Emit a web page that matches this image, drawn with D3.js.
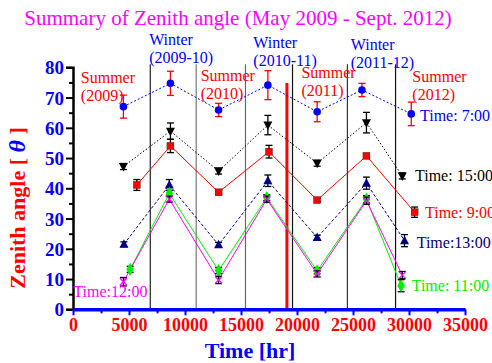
<!DOCTYPE html>
<html>
<head>
<meta charset="utf-8">
<script src="https://cdn.jsdelivr.net/npm/d3@7"></script>
<style>
  body { margin: 0; background: #fff; }
  text { font-family: "Liberation Serif", "Times New Roman", serif; }
</style>
</head>
<body>
<div id="chart"></div>
<script>
var width = 492,
    height = 363;

// hours since start, zenith angle, error
var s7x  = [4500, 8700, 13000, 17400, 21800, 25800, 30200];
var s7y  = [67.0, 74.7, 65.9, 74.1, 65.3, 72.5, 64.6];
var s7e  = [3.8, 4.0, 2.2, 4.8, 3.3, 2.2, 3.9];

var s15x = [4500, 8700, 13000, 17400, 21800, 26200, 29400];
var s15y = [47.2, 58.9, 45.7, 60.9, 48.3, 61.7, 44.1];
var s15e = [1.0, 2.7, 1.0, 3.2, 1.0, 3.4, 1.0];

var s9x  = [5700, 8700, 13000, 17500, 21800, 26200, 30500];
var s9y  = [41.1, 54.0, 38.7, 52.1, 36.1, 50.7, 32.1];
var s9e  = [1.8, 2.2, 0.8, 2.1, 0.5, 0.8, 1.7];

var s13x = [4550, 8600, 13000, 17400, 21800, 26200, 29600];
var s13y = [21.5, 41.1, 21.3, 42.5, 23.7, 41.7, 22.7];
var s13e = [0.8, 1.8, 0.8, 1.9, 0.8, 2.0, 2.0];

var s11x = [5100, 8600, 13000, 17300, 21800, 26200, 29300];
var s11y = [13.2, 38.3, 12.8, 36.9, 12.7, 36.4, 7.8];
var s11e = [1.0, 1.0, 1.0, 1.0, 1.0, 1.2, 2.0];

var s12x = [4500, 8600, 13000, 17300, 21800, 26200, 29400];
var s12y = [9.1, 36.4, 9.7, 36.4, 11.7, 35.9, 11.3];
var s12e = [1.4, 1.0, 1.2, 1.0, 1.0, 1.2, 1.2];

var seasonLines = [6900, 11000, 15400, 19600, 24500, 28800];
var seasonShade = ["#222", "#777", "#666", "#111", "#333", "#111"];
var redLine = 19100;

var winters = [["Winter", "(2009-10)", 6800], ["Winter", "(2010-11)", 16100], ["Winter", "(2011-12)", 24800]];
var summers = [["Summer", "(2009)", 700], ["Summer", "(2010)", 11400], ["Summer", "(2011)", 20400], ["Summer", "(2012)", 30300]];

var xTicks = [0, 5000, 10000, 15000, 20000, 25000, 30000, 35000];
var yTicks = [0, 10, 20, 30, 40, 50, 60, 70, 80];

var svg = d3.select("#chart").append("svg")
    .attr("width", width)
    .attr("height", height);

var x = d3.scaleLinear().domain([0, 35000]).range([73, 465]);
var y = d3.scaleLinear().domain([0, 80]).range([309.3, 67.3]);

// title
svg.append("text")
    .attr("x", 238).attr("y", 25)
    .attr("text-anchor", "middle")
    .style("font-size", "21px")
    .style("fill", "#ff00ff")
    .text("Summary of Zenith angle (May 2009 - Sept. 2012)");

// vertical season separators
svg.selectAll(".sep").data(seasonLines).enter().append("line")
    .attr("class", "sep")
    .attr("x1", function(d){ return x(d); })
    .attr("x2", function(d){ return x(d); })
    .attr("y1", y(81)).attr("y2", y(0))
    .attr("stroke", function(d, i){ return seasonShade[i]; })
    .attr("stroke-width", 1.2);

svg.append("line")
    .attr("x1", x(redLine)).attr("x2", x(redLine))
    .attr("y1", y(74.8)).attr("y2", y(0))
    .attr("stroke", "#ff0000")
    .attr("stroke-width", 3);

// axes
var yAxis = svg.append("g")
    .attr("transform", "translate(" + x(0) + ",0)")
    .call(d3.axisLeft(y).tickValues(yTicks).tickSize(7).tickFormat(d3.format("d")));
yAxis.select(".domain").attr("stroke", "#000").attr("stroke-width", 2.5);
yAxis.selectAll(".tick line").attr("stroke", "#000").attr("stroke-width", 2);
yAxis.selectAll(".tick text")
    .attr("x", -9).attr("dy", "0.35em")
    .style("font-family", "Liberation Serif")
    .style("font-size", "19px").style("font-weight", "bold").style("fill", "#0000ff");
svg.append("g")
    .attr("transform", "translate(" + x(0) + ",0)")
    .call(d3.axisLeft(y).tickValues(d3.range(5, 80, 10)).tickSize(4).tickFormat(""))
    .call(function(g){ g.select(".domain").remove(); })
    .selectAll("line").attr("stroke", "#000").attr("stroke-width", 2);

var xAxis = svg.append("g")
    .attr("transform", "translate(0," + y(0) + ")")
    .call(d3.axisBottom(x).tickValues(xTicks).tickSize(6).tickSizeOuter(0).tickFormat(d3.format("d")));
xAxis.select(".domain").attr("stroke", "#0000ff").attr("stroke-width", 3.5);
xAxis.selectAll(".tick line").attr("stroke", "#0000ff").attr("stroke-width", 2);
xAxis.selectAll(".tick text")
    .attr("y", 9)
    .style("font-family", "Liberation Serif")
    .style("font-size", "18px").style("font-weight", "bold").style("fill", "#ff0000");
svg.append("g")
    .attr("transform", "translate(0," + y(0) + ")")
    .call(d3.axisBottom(x).tickValues(d3.range(2500, 35000, 5000)).tickSize(4).tickFormat(""))
    .call(function(g){ g.select(".domain").remove(); })
    .selectAll("line").attr("stroke", "#0000ff").attr("stroke-width", 2);

// axis titles
svg.append("text")
    .attr("x", 250).attr("y", 358)
    .attr("text-anchor", "middle")
    .style("font-size", "22px").style("font-weight", "bold").style("fill", "#0000ff")
    .text("Time [hr]");

var yt = svg.append("text")
    .attr("transform", "translate(25,208) rotate(-90)")
    .attr("text-anchor", "middle")
    .style("font-size", "22px").style("font-weight", "bold").style("fill", "#ff0000");
yt.append("tspan").text("Zenith angle [ ");
yt.append("tspan").style("fill", "#0000ff").style("font-style", "italic").style("font-size", "24px").text("θ");
yt.append("tspan").text(" ]");

// season labels
winters.forEach(function(w, i){
    var t = svg.append("text")
        .attr("x", x(w[2])).attr("y", 45 + i * 2.5)
        .style("font-size", "16px").style("fill", "#0000ff");
    t.append("tspan").text(w[0]);
    t.append("tspan").attr("x", x(w[2])).attr("dy", 18).text(w[1]);
});
var summerY = [83, 80.7, 78, 81.7];
summers.forEach(function(s, i){
    var t = svg.append("text")
        .attr("x", x(s[2])).attr("y", summerY[i])
        .style("font-size", "16px").style("fill", "#ff0000");
    t.append("tspan").text(s[0]);
    t.append("tspan").attr("x", x(s[2])).attr("dy", 18).text(s[1]);
});

// series
var series = [
  {xs: s7x,  ys: s7y,  es: s7e,  color: "#0000ff", dash: "2,2", ebar: "#ff0000", marker: "circle"},
  {xs: s15x, ys: s15y, es: s15e, color: "#000000", dash: "1.5,2", ebar: "#000", marker: "tdown"},
  {xs: s9x,  ys: s9y,  es: s9e,  color: "#ff0000", dash: null, ebar: "#000", marker: "square"},
  {xs: s13x, ys: s13y, es: s13e, color: "#000080", dash: "3,2", ebar: "#000", marker: "tup"},
  {xs: s11x, ys: s11y, es: s11e, color: "#00ee00", dash: null, ebar: "#000", marker: "dot"},
  {xs: s12x, ys: s12y, es: s12e, color: "#ff00ff", dash: null, ebar: "#000", marker: "cross"}
];

var line = d3.line()
    .x(function(d){ return x(d[0]); })
    .y(function(d){ return y(d[1]); });

series.forEach(function(s){
    var pts = s.xs.map(function(v, i){ return [v, s.ys[i], s.es[i]]; });
    svg.append("path")
        .attr("d", line(pts))
        .attr("fill", "none")
        .attr("stroke", s.color)
        .attr("stroke-width", 1)
        .attr("stroke-dasharray", s.dash);
    s.pts = pts;
});

series.forEach(function(s){
    var g = svg.append("g");
    s.pts.forEach(function(p){
        var cx = x(p[0]), cy = y(p[1]);
        var top = y(p[1] + p[2]), bot = y(p[1] - p[2]);
        g.append("line").attr("x1", cx).attr("x2", cx).attr("y1", top).attr("y2", bot)
            .attr("stroke", s.ebar).attr("stroke-width", 1.3);
        [top, bot].forEach(function(yy){
            g.append("line").attr("x1", cx - 3.5).attr("x2", cx + 3.5).attr("y1", yy).attr("y2", yy)
                .attr("stroke", s.ebar).attr("stroke-width", 1.3);
        });
        if (s.marker === "circle") {
            g.append("circle").attr("cx", cx).attr("cy", cy).attr("r", 3.8).attr("fill", s.color);
        } else if (s.marker === "dot") {
            g.append("path").attr("d", d3.symbol(d3.symbolDiamond, 50)())
                .attr("transform", "translate(" + cx + "," + cy + ")").attr("fill", s.color);
        } else if (s.marker === "square") {
            g.append("rect").attr("x", cx - 3.5).attr("y", cy - 3.5).attr("width", 7).attr("height", 7)
                .attr("fill", s.color).attr("stroke", "#000").attr("stroke-width", 0.3);
        } else if (s.marker === "tup") {
            g.append("path").attr("d", "M" + cx + "," + (cy - 5) + "L" + (cx + 4.5) + "," + (cy + 3.5) + "L" + (cx - 4.5) + "," + (cy + 3.5) + "Z")
                .attr("fill", s.color);
        } else if (s.marker === "tdown") {
            g.append("path").attr("d", "M" + cx + "," + (cy + 5) + "L" + (cx + 4.5) + "," + (cy - 3.5) + "L" + (cx - 4.5) + "," + (cy - 3.5) + "Z")
                .attr("fill", s.color);
        } else {
            g.append("path").attr("d", "M" + (cx - 3.5) + "," + (cy - 3.5) + "L" + (cx + 3.5) + "," + (cy + 3.5) + "M" + (cx + 3.5) + "," + (cy - 3.5) + "L" + (cx - 3.5) + "," + (cy + 3.5))
                .attr("stroke", s.color).attr("stroke-width", 1.2);
        }
    });
});

// series labels
var labels = [
  ["Time: 7:00", 420, 120.7, "#0000ff"],
  ["Time: 15:00", 415, 180.7, "#000000"],
  ["Time: 9:00", 425, 218, "#ff0000"],
  ["Time:13:00", 416.7, 248, "#000080"],
  ["Time: 11:00", 411.7, 290.7, "#00ee00"],
  ["Time:12:00", 73.3, 297.3, "#ff00ff"]
];
labels.forEach(function(l){
    svg.append("text")
        .attr("x", l[1]).attr("y", l[2])
        .style("font-size", "16px")
        .style("fill", l[3])
        .text(l[0]);
});
</script>
</body>
</html>
